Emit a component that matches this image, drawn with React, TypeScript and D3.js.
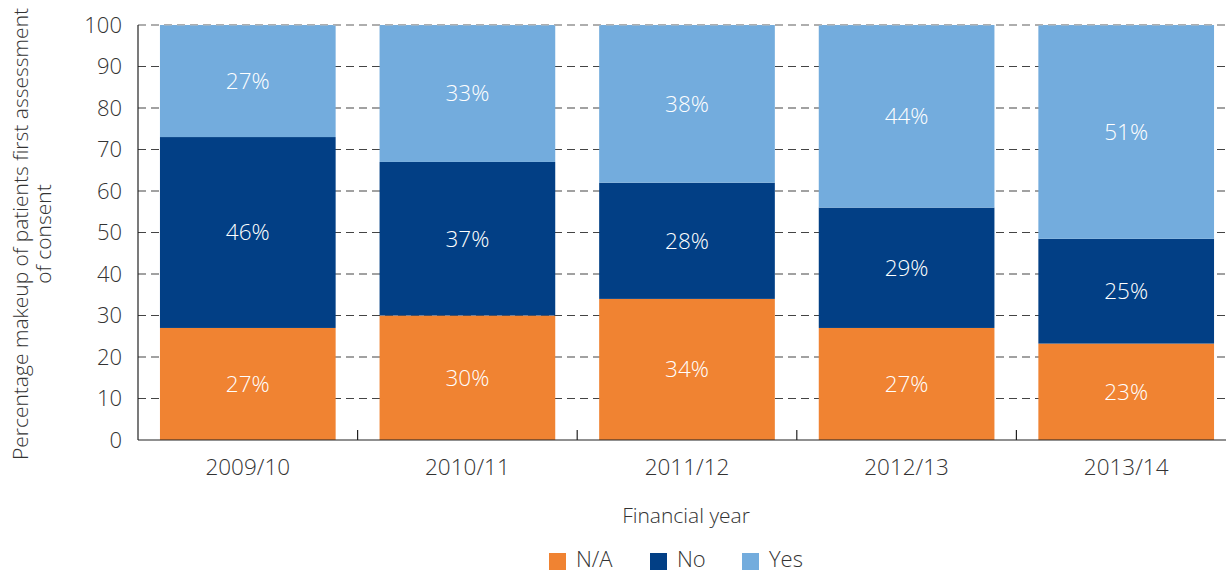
import * as d3 from "d3";

const years = ["2009/10", "2010/11", "2011/12", "2012/13", "2013/14"];
const naValues = [27, 30, 34, 27, 23];
const noValues = [46, 37, 28, 29, 25];
const yesValues = [27, 33, 38, 44, 51];
const seriesNames = ["N/A", "No", "Yes"];
const seriesColors = ["#F08332", "#023F85", "#73ACDD"];
const yTicks = [0, 10, 20, 30, 40, 50, 60, 70, 80, 90, 100];

const W = 1226;
const H = 572;
const font = "'Open Sans', 'Noto Sans', sans-serif";
const textColor = "#333333";

export default function App() {
  const rows = years.map((y, i) => ({ year: y, "N/A": naValues[i], No: noValues[i], Yes: yesValues[i] }));
  const raw: Record<string, number[]> = { "N/A": naValues, No: noValues, Yes: yesValues };

  // stacked to 100% like the original
  const stacked = d3.stack<any>().keys(seriesNames).offset(d3.stackOffsetExpand)(rows);

  const x = d3.scaleBand<string>().domain(years).range([138, 1236]).paddingInner(0.2).paddingOuter(0.1);
  const y = d3.scaleLinear().domain([0, 100]).range([440, 25]);
  const left = 138;
  const right = 1236;

  return (
    <svg width={W} height={H} style={{ position: "absolute", left: 0, top: 0 }} fontFamily={font} fontWeight={300}>
      {/* gridlines behind bars */}
      {yTicks.filter(t => t > 0).map(t => (
        <line key={t} x1={left} x2={right} y1={y(t)} y2={y(t)} stroke="#444" strokeWidth={1.2} strokeDasharray="8 5" />
      ))}
      {stacked.map((s, si) => (
        <g key={s.key} fill={seriesColors[si]}>
          {s.map((d, i) => (
            <rect key={i} x={x(years[i])} width={x.bandwidth()} y={y(d[1] * 100)} height={y(d[0] * 100) - y(d[1] * 100)} />
          ))}
        </g>
      ))}
      <line x1={left} x2={right} y1={y(100)} y2={y(100)} stroke="#bbb" strokeWidth={1.2} strokeDasharray="8 5" />
      {stacked.map((s, si) => (
        <g key={"l" + s.key}>
          {s.map((d, i) => (
            <text key={i} x={x(years[i])! + x.bandwidth() / 2} y={y(((d[0] + d[1]) / 2) * 100)} dy="0.35em"
              textAnchor="middle" fill="#fff" fontSize={22.5}>
              {raw[s.key][i]}%
            </text>
          ))}
        </g>
      ))}
      {/* axes */}
      <line x1={left} x2={left} y1={y(100)} y2={y(0)} stroke="#222" strokeWidth={1.2} />
      <line x1={left} x2={right} y1={y(0)} y2={y(0)} stroke="#222" strokeWidth={1.2} />
      {years.slice(1).map(yr => (
        <line key={yr} x1={x(yr)! - (x.step() - x.bandwidth()) / 2} x2={x(yr)! - (x.step() - x.bandwidth()) / 2}
          y1={y(0)} y2={y(0) - 10} stroke="#222" strokeWidth={1.2} />
      ))}
      {yTicks.map(t => (
        <text key={t} x={122} y={y(t)} dy="0.35em" textAnchor="end" fontSize={22} fill={textColor}>{t}</text>
      ))}
      {years.map(yr => (
        <text key={yr} x={x(yr)! + x.bandwidth() / 2} y={475} textAnchor="middle" fontSize={22.5} fill={textColor}>{yr}</text>
      ))}
      <text x={686} y={523} textAnchor="middle" fontSize={21} fill={textColor}>Financial year</text>
      <g transform="translate(22,234) rotate(-90)">
        <text x={0} y={6} textAnchor="middle" fontSize={21} fill={textColor}>Percentage makeup of patients first assessment</text>
        <text x={0} y={29} textAnchor="middle" fontSize={21} fill={textColor}>of consent</text>
      </g>
      {/* legend */}
      {seriesNames.map((n, i) => {
        const lx = [549, 650, 742][i];
        return (
          <g key={n}>
            <rect x={lx} y={553} width={17} height={17} fill={seriesColors[i]} />
            <text x={lx + 27} y={567} fontSize={22} fill={textColor}>{n}</text>
          </g>
        );
      })}
    </svg>
  );
}
